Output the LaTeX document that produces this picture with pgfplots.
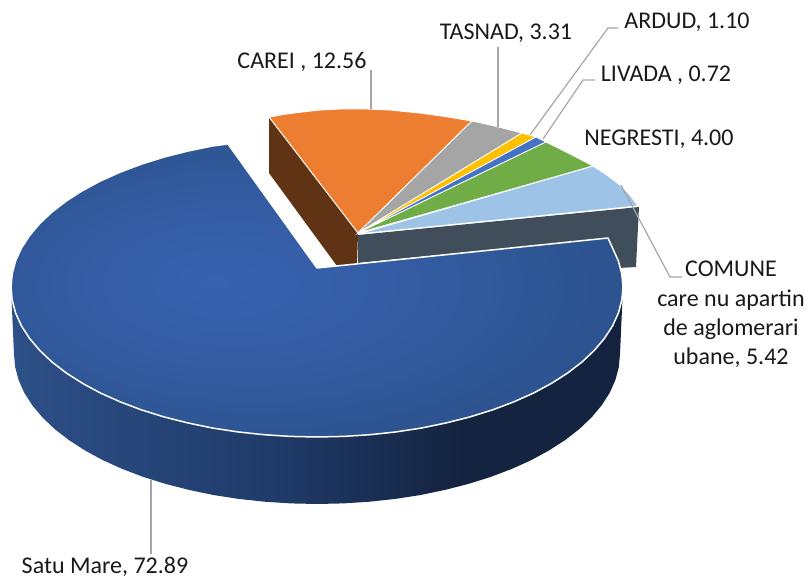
\documentclass[border=0pt]{standalone}
\usepackage{fontspec}
\setmainfont{Carlito}
\usepackage{pgfplots}
\pgfplotsset{compat=1.18}
\definecolor{orangeS}{HTML}{EC7D31}
\definecolor{grayS}{HTML}{A5A5A5}
\definecolor{yellowS}{HTML}{FFC000}
\definecolor{blueS}{HTML}{4472C4}
\definecolor{greenS}{HTML}{70AD47}
\definecolor{lblueS}{HTML}{9DC3E6}
\definecolor{brownS}{HTML}{5F3314}
\definecolor{slateS}{HTML}{404D5B}
\definecolor{leader}{HTML}{A6A6A6}
\definecolor{topA}{HTML}{3762AF}
\definecolor{topB}{HTML}{345DA5}
\definecolor{topC}{HTML}{2D5490}
\definecolor{sideA}{HTML}{2D5088}
\definecolor{sideB}{HTML}{1F3A68}
\definecolor{sideC}{HTML}{14233F}
\pgfdeclareradialshading{topshade}{\pgfpoint{-8.5bp}{1.5bp}}{color(0bp)=(topA);color(12bp)=(topB);color(27bp)=(topC);color(50bp)=(topC)}
\pgfdeclarehorizontalshading{sideshade}{100bp}{color(0bp)=(sideA);color(25bp)=(sideA);color(47bp)=(sideB);color(62bp)=(sideC);color(100bp)=(sideC)}
\tikzset{lab/.style={font=\fontsize{24}{28}\selectfont, text=black!90, inner sep=0pt}}
\begin{document}
\begin{tikzpicture}
\useasboundingbox (0,0) rectangle (808pt,580pt);
\begin{axis}[
  at={(0,0)}, anchor=south west,
  width=808pt, height=580pt, scale only axis,
  xmin=0, xmax=808, ymin=0, ymax=580, y dir=reverse,
  axis lines=none, clip=false,
]
% side walls behind the pulled out slices
\addplot[fill=brownS, draw=none] coordinates {(269,117)(358,233)(357,266)(337,266)(269,173)} --cycle;
\addplot[fill=slateS, draw=none] coordinates {(358,235)(639,207)(636,267)(618,268)(608,238)(358,263)} --cycle;
% small slices
\addplot[fill=orangeS, draw=white, line width=1pt, line join=round] coordinates {(358,233)(269,117)(285,114.2)(300,112.2)(320,110)(340,109)(363,108.8)(390,110)(420,113)(447,116.8)(472,121)} --cycle;
\addplot[fill=grayS, draw=white, line width=0.8pt] coordinates {(358,233)(472,121)(497,126.6)(522,133)} --cycle;
\addplot[fill=yellowS, draw=white, line width=0.8pt] coordinates {(358,233)(522,133)(536,137)} --cycle;
\addplot[fill=blueS, draw=white, line width=0.8pt] coordinates {(358,233)(536,137)(546,142)} --cycle;
\addplot[fill=greenS, draw=white, line width=0.8pt] coordinates {(358,233)(546,142)(570,154)(593,166)} --cycle;
\addplot[fill=lblueS, draw=white, line width=1pt, line join=round] coordinates {(358,234)(593,166)(607,175)(620,185)(630,195)(638,206)} --cycle;
% Satu Mare, wall then top
\addplot[shade, shading=sideshade, draw=none] coordinates {
  (11,287)(14,354)(15.2,367.1)(18.6,380)(24.3,392.8)(32.3,405.3)(42.4,417.4)(54.6,429)(68.8,440)(84.9,450.4)
  (102.7,460.1)(122.2,468.9)(143.2,476.9)(165.5,483.9)(189,489.9)(213.4,495)(238.6,498.9)(264.4,501.7)(290.6,503.4)(317,504)
  (343.4,503.4)(369.6,501.7)(395.4,498.9)(420.6,495)(445,489.9)(468.5,483.9)(490.8,476.9)(511.8,468.9)(531.3,460.1)
  (549.1,450.4)(565.2,440)(579.4,429)(591.6,417.4)(601.7,405.3)(609.7,392.8)(615.4,380)(618.8,367.1)(620,354)(623,287)} --cycle;
\addplot[shade, shading=topshade, draw=white, line width=1.5pt, line join=round] coordinates {
  (317,268)(228,144)(212.3,146)(187.7,151.1)(164,157.1)(141.5,164.1)(120.3,172.1)(100.6,180.9)(82.6,190.6)(66.3,201)
  (52,212)(39.7,223.6)(29.5,235.7)(21.4,248.2)(15.6,261)(12.2,273.9)(11,287)
  (12.2,300.1)(15.6,313)(21.4,325.8)(29.5,338.3)(39.7,350.4)(52,362)(66.3,373)(82.6,383.4)(100.6,393.1)(120.3,401.9)
  (141.5,409.9)(164,416.9)(187.7,422.9)(212.3,428)(237.8,431.9)(263.9,434.7)(290.3,436.4)(317,437)
  (343.7,436.4)(370.1,434.7)(396.2,431.9)(421.7,428)(446.3,422.9)(470,416.9)(492.5,409.9)(513.7,401.9)(533.4,393.1)
  (551.4,383.4)(567.7,373)(582,362)(594.3,350.4)(604.5,338.3)(612.6,325.8)(618.4,313)(621.8,300.1)(623,287)
  (621.8,273.9)(618.4,261)(612.6,248.2)(608,238)} --cycle;
% leader lines
\addplot[leader, line width=1.2pt] coordinates {(371,70)(371,109)};
\addplot[leader, line width=1.2pt] coordinates {(498,47)(498,127)};
\addplot[leader, line width=1.2pt] coordinates {(618,28)(608,28)(530,135)};
\addplot[leader, line width=1.2pt] coordinates {(595,80)(583,80)(543,139)};
\addplot[leader, line width=1.2pt] coordinates {(682,277)(670,277)(621,185)};
\addplot[leader, line width=1.2pt] coordinates {(151,480)(151,554)};
% labels
\node[lab] at (axis cs:302,62) {CAREI , 12.56};
\node[lab] at (axis cs:506,33) {TASNAD, 3.31};
\node[lab] at (axis cs:687,22) {ARDUD, 1.10};
\node[lab] at (axis cs:666,75) {LIVADA , 0.72};
\node[lab] at (axis cs:659,139) {NEGRESTI, 4.00};
\node[lab] at (axis cs:731,269) {COMUNE};
\node[lab] at (axis cs:731,300) {care nu apartin};
\node[lab] at (axis cs:731,329) {de aglomerari};
\node[lab] at (axis cs:731,358) {ubane, 5.42};
\node[lab] at (axis cs:105,567) {Satu Mare, 72.89};
\end{axis}
\end{tikzpicture}
\end{document}
